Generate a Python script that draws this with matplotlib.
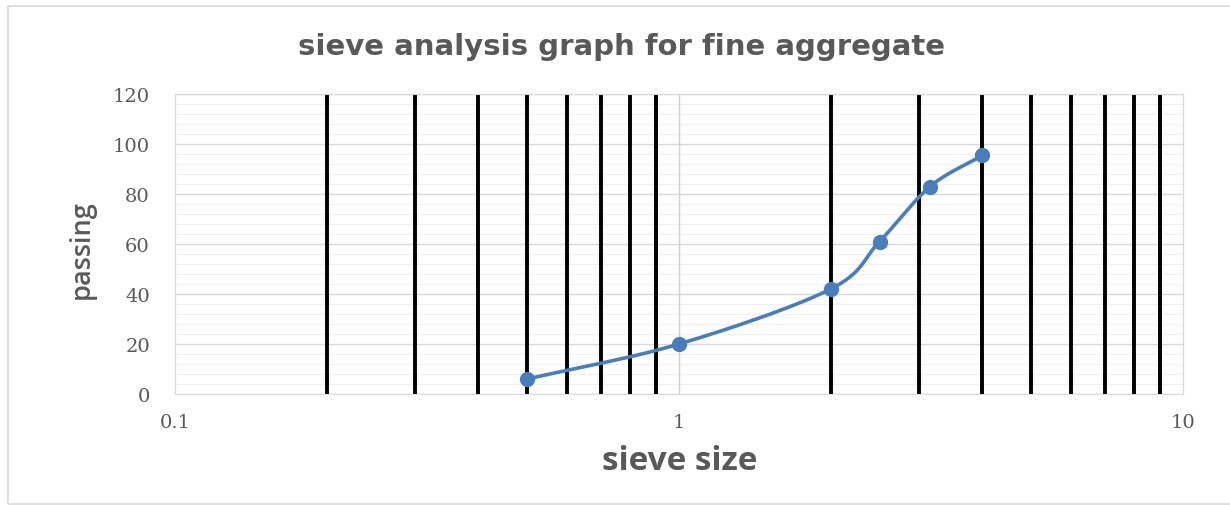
import numpy as np
import matplotlib
matplotlib.use("Agg")
import matplotlib.pyplot as plt
from matplotlib.patches import Rectangle

# data
sieve_size = [0.5, 1.0, 2.0, 2.5, 3.15, 4.0]
passing = [6, 20, 42, 61, 83, 95.5]
x_ticks = [0.1, 1, 10]
x_tick_labels = ["0.1", "1", "10"]
y_ticks = [0, 20, 40, 60, 80, 100, 120]
minor_x = [0.2, 0.3, 0.4, 0.5, 0.6, 0.7, 0.8, 0.9, 2, 3, 4, 5, 6, 7, 8, 9]

def catmull_rom(xs, ys, n=40, tension=0.5):
    xs = np.asarray(xs, float); ys = np.asarray(ys, float)
    px = np.concatenate([[2*xs[0]-xs[1]], xs, [2*xs[-1]-xs[-2]]])
    py = np.concatenate([[2*ys[0]-ys[1]], ys, [2*ys[-1]-ys[-2]]])
    ox, oy = [], []
    for i in range(1, len(px)-2):
        p0, p1, p2, p3 = [np.array([px[j], py[j]]) for j in (i-1, i, i+1, i+2)]
        m1 = tension*(p2-p0); m2 = tension*(p3-p1)
        t = np.linspace(0, 1, n)
        h00 = 2*t**3-3*t**2+1; h10 = t**3-2*t**2+t
        h01 = -2*t**3+3*t**2; h11 = t**3-t**2
        pts = np.outer(h00, p1)+np.outer(h10, m1)+np.outer(h01, p2)+np.outer(h11, m2)
        ox.extend(pts[:, 0]); oy.extend(pts[:, 1])
    return np.array(ox), np.array(oy)

fig = plt.figure(figsize=(12.3, 5.06), dpi=100)
fig.patches.append(Rectangle((8/1230, 0.002), 1.0, (506-8)/506, transform=fig.transFigure,
                             fill=False, edgecolor="#d9d9d9", linewidth=1.2))
ax = fig.add_axes([175/1230, 111/506, 1008/1230, 300/506])
ax.set_xscale("log")
ax.set_xlim(0.1, 10)
ax.set_ylim(0, 120)

# horizontal grid
for y in np.arange(0, 121, 4):
    if y % 20 == 0:
        ax.axhline(y, color="#d9d9d9", lw=1.0, zorder=1)
    else:
        ax.axhline(y, color="#f0f0f0", lw=0.8, zorder=0.5)
ax.axvline(1, color="#d0d0d0", lw=1.0, zorder=1)
for xv in minor_x:
    ax.axvline(xv, color="black", lw=2.8, zorder=2)

lx, ly = catmull_rom(np.log10(sieve_size), passing)
ax.plot(10**lx, ly, color="#4a7ebb", lw=2.6, zorder=3)
ax.plot(sieve_size, passing, "o", color="#4a7ebb", ms=10, zorder=4)

for s in ax.spines.values():
    s.set_color("#d9d9d9")
ax.set_xticks(x_ticks)
ax.set_xticklabels(x_tick_labels)
ax.xaxis.set_minor_locator(matplotlib.ticker.NullLocator())
ax.set_yticks(y_ticks)
ax.tick_params(length=0, labelsize=14, labelcolor="#595959")
ax.tick_params(axis="y", pad=18)
ax.tick_params(axis="x", pad=14)
for lab in ax.get_xticklabels() + ax.get_yticklabels():
    lab.set_family("DejaVu Serif")

fig.text(0.505, 1-47/506, "sieve analysis graph for fine aggregate", ha="center", va="center",
         fontsize=21, color="#595959", family="DejaVu Sans", fontweight="bold")
fig.text(680/1230, 1-462/506, "sieve size", ha="center", va="center",
         fontsize=24, color="#595959", family="Open Sans", fontweight="bold")
fig.text(82/1230, 1-250/506, "passing", ha="center", va="center", rotation=90,
         fontsize=19.5, color="#595959", family="Open Sans", fontweight="semibold")

fig.savefig("out.png", dpi=100)
